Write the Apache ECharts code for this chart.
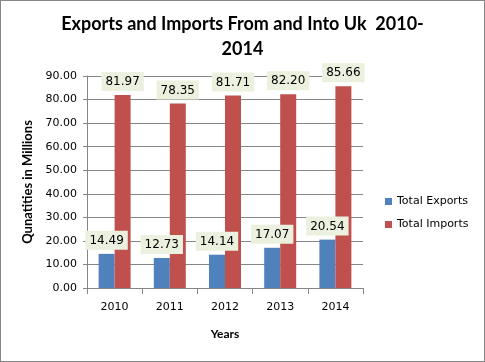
<!DOCTYPE html>
<html><head><meta charset="utf-8">
<script src="https://cdn.jsdelivr.net/npm/echarts@6/dist/echarts.min.js"></script>
<style>html,body{margin:0;padding:0;background:#fff}
#frame{position:absolute;left:0;top:0;width:483px;height:360px;border:1px solid #868686;}
#c{position:absolute;left:0;top:0;width:485px;height:362px}</style>
</head><body><div id="frame"></div><div id="c"></div>
<script>
var categories = ['2010','2011','2012','2013','2014'];
var exportsData = [14.49, 12.73, 14.14, 17.07, 20.54];
var importsData = [81.97, 78.35, 81.71, 82.20, 85.66];
var seriesNames = ['Total Exports','Total Imports'];
var chart = echarts.init(document.getElementById('c'));
var lbl = {show:true, position:'top', distance:4, color:'#000', fontFamily:'DejaVu Sans', fontSize:12,
  backgroundColor:'#EBF1DE', padding:[4,4,3,4], formatter:function(p){return p.value.toFixed(2);}};
chart.setOption({
  animation:false,
  title:{text:'Exports and Imports From and Into Uk  2010-\n2014', left:'center', top:7,
    textStyle:{fontFamily:'Lato', fontWeight:'bold', fontSize:18, color:'#000', lineHeight:25}},
  legend:{orient:'vertical', left:380, top:191, itemWidth:7, itemHeight:7, itemGap:12, icon:'rect',
    textStyle:{fontFamily:'DejaVu Sans', fontSize:11, color:'#000'}, data:seriesNames},
  grid:{left:87, right:122, top:76, bottom:74, containLabel:false},
  xAxis:{type:'category', data:categories, name:'Years', nameLocation:'middle', nameGap:40,
    nameTextStyle:{fontFamily:'Lato', fontWeight:'bold', fontSize:12, color:'#000'},
    axisLine:{lineStyle:{color:'#868686'}}, axisTick:{show:true, length:6, lineStyle:{color:'#868686'}},
    axisLabel:{fontFamily:'DejaVu Sans', fontSize:11, color:'#000', margin:14}},
  yAxis:{type:'value', min:0, max:90, interval:10, name:'Qunatities in Millions', nameLocation:'middle', nameGap:52,
    nameTextStyle:{fontFamily:'Lato', fontWeight:'bold', fontSize:13, color:'#000'},
    axisLine:{show:true, lineStyle:{color:'#868686'}}, axisTick:{show:true, length:4, lineStyle:{color:'#868686'}},
    splitLine:{lineStyle:{color:'#868686'}},
    axisLabel:{fontFamily:'DejaVu Sans', fontSize:11, color:'#000', margin:10, formatter:function(v){return v.toFixed(2);}}},
  series:[
    {name:seriesNames[0], type:'bar', data:exportsData, barWidth:16, barGap:'0%', itemStyle:{color:'#4F81BD'}, label:lbl},
    {name:seriesNames[1], type:'bar', data:importsData, barWidth:16, barGap:'0%', itemStyle:{color:'#C0504D'}, label:lbl}
  ]
});
</script></body></html>
